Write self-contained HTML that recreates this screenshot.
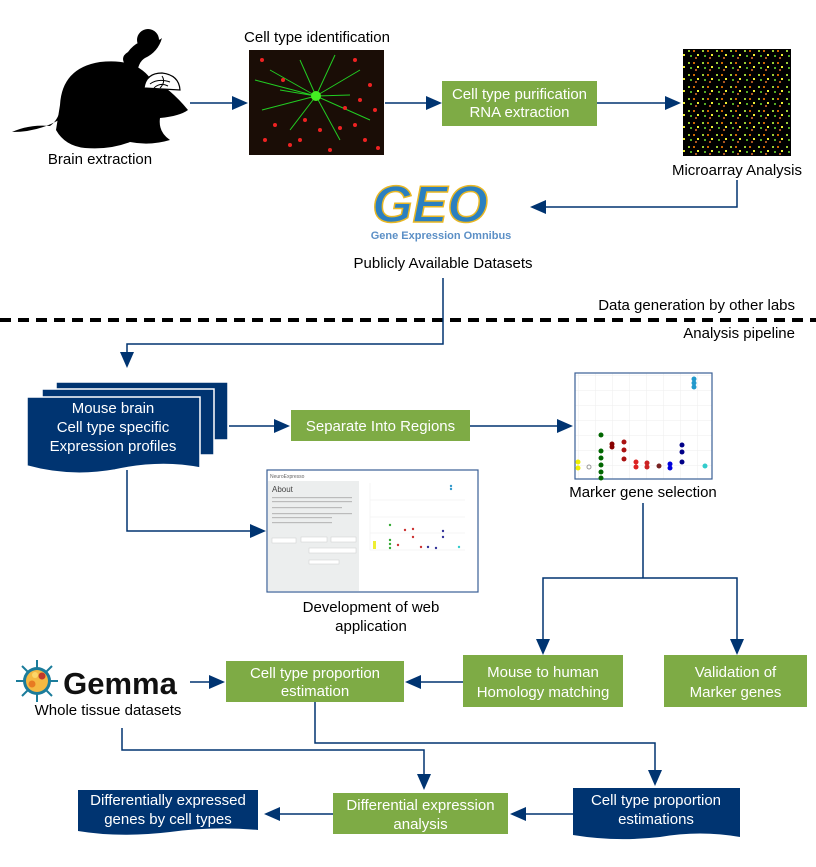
<!DOCTYPE html>
<html><head><meta charset="utf-8"><style>
html,body{margin:0;padding:0;background:#fff}
svg{display:block}
text{font-family:"Liberation Sans",sans-serif;}
</style></head><body>
<svg width="816" height="867" viewBox="0 0 816 867" xmlns="http://www.w3.org/2000/svg">
<defs>
<pattern id="ma" width="14" height="12" patternUnits="userSpaceOnUse">
<rect width="14" height="12" fill="#000"/>
<rect x="2" y="2" width="2" height="2" fill="#9c3"/>
<rect x="7" y="2" width="2" height="2" fill="#c60"/>
<rect x="11" y="6" width="2" height="2" fill="#ee3"/>
<rect x="4" y="7" width="2" height="2" fill="#5a2"/>
<rect x="9" y="9" width="2" height="2" fill="#a52"/>
</pattern>
<pattern id="gr" width="17" height="15" patternUnits="userSpaceOnUse">
<rect width="17" height="15" fill="#fff"/>
<path d="M0 0H17M0 0V15" stroke="#eee" stroke-width="1"/>
</pattern>
</defs>
<!-- mouse silhouette -->
<g fill="#000">
<path d="M60 105 Q62 68 100 62 Q135 58 150 78 Q170 88 188 110 Q180 116 160 118 Q158 132 170 140 Q150 146 130 142 Q110 150 85 148 Q65 146 56 130Z"/>
<path d="M62 118 Q40 132 12 132 Q30 124 50 126 Q58 120 60 110Z"/>
<circle cx="148" cy="40" r="11"/>
<path d="M128 68 Q118 58 128 52 Q133 45 140 42 Q158 42 162 38 Q158 52 145 58 Q138 62 137 75Z"/>
</g>
<path d="M144 88 Q146 73 162 73 Q179 75 180 90Z" fill="#fff" stroke="#000" stroke-width="1.2"/>
<path d="M150 84 Q158 78 170 82 M154 88 Q160 82 168 86 M162 76 Q166 82 160 88" stroke="#000" fill="none"/>
<text x="100" y="164" font-size="15" text-anchor="middle">Brain extraction</text>

<text x="317" y="42" font-size="15" text-anchor="middle">Cell type identification</text>
<rect x="249" y="50" width="135" height="105" fill="#1a0d06"/>
<g stroke="#2c2" stroke-width="1" fill="none">
<path d="M316 96 L270 70 M316 96 L290 130 M316 96 L360 70 M316 96 L370 120 M316 96 L300 60 M316 96 L340 140 M316 96 L262 110 M316 96 L335 55 M316 96 L280 90 M316 96 L350 95 M316 96 L255 80"/>
</g>
<circle cx="316" cy="96" r="5" fill="#4e2"/>
<g fill="#e22">
<circle cx="265" cy="140" r="2"/><circle cx="290" cy="145" r="2"/><circle cx="340" cy="128" r="2"/><circle cx="365" cy="140" r="2"/><circle cx="375" cy="110" r="2"/><circle cx="355" cy="60" r="2"/><circle cx="283" cy="80" r="2"/><circle cx="330" cy="150" r="2"/><circle cx="305" cy="120" r="2"/><circle cx="370" cy="85" r="2"/><circle cx="262" cy="60" r="2"/><circle cx="345" cy="108" r="2"/>
<circle cx="275" cy="125" r="2"/><circle cx="355" cy="125" r="2"/><circle cx="300" cy="140" r="2"/><circle cx="378" cy="148" r="2"/><circle cx="320" cy="130" r="2"/><circle cx="360" cy="100" r="2"/>
</g>
<rect x="442" y="81" width="155" height="45" fill="#7eab45"/>
<text x="519.5" y="99" font-size="15" fill="#fff" text-anchor="middle">Cell type purification</text>
<text x="519.5" y="117" font-size="15" fill="#fff" text-anchor="middle">RNA extraction</text>
<rect x="683" y="49" width="108" height="107" fill="url(#ma)"/>
<text x="737" y="175" font-size="15" text-anchor="middle">Microarray Analysis</text>

<!-- GEO -->
<text x="430" y="222" font-size="52" font-weight="bold" font-style="italic" fill="#2a7fc0" text-anchor="middle" stroke="#e9b723" stroke-width="1.5">GEO</text>
<text x="441" y="239" font-size="11" font-weight="bold" fill="#5b8fc6" text-anchor="middle">Gene Expression Omnibus</text>
<text x="443" y="268" font-size="15" text-anchor="middle">Publicly Available Datasets</text>

<text x="795" y="310" font-size="15" text-anchor="end">Data generation by other labs</text>
<line x1="0" y1="320" x2="816" y2="320" stroke="#000" stroke-width="4" stroke-dasharray="11,7"/>
<text x="795" y="338" font-size="15" text-anchor="end">Analysis pipeline</text>

<!-- connectors -->
<g stroke="#003471" stroke-width="1.5" fill="none">
<path d="M190 103H240"/><path d="M385 103H434"/><path d="M597 103H673"/>
<path d="M737 180V207H540"/>
<path d="M443 278V344H127V360"/>
<path d="M229 426H282"/><path d="M470 426H565"/>
<path d="M127 470V531H257"/>
<path d="M643 503V578H543V645M643 578H737V645"/>
<path d="M463 682H415"/>
<path d="M190 682H216"/>
<path d="M122 728V750H424V780"/>
<path d="M315 702V743H655V776"/>
<path d="M573 814H520"/><path d="M333 814H274"/>
</g>
<g fill="#003471">
<path d="M248 103l-16-7v14z"/><path d="M442 103l-16-7v14z"/><path d="M681 103l-16-7v14z"/>
<path d="M530 207l16-7v14z"/>
<path d="M127 368l-7-16h14z"/>
<path d="M290 426l-16-7v14z"/><path d="M573 426l-16-7v14z"/>
<path d="M266 531l-16-7v14z"/>
<path d="M543 655l-7-16h14z"/><path d="M737 655l-7-16h14z"/>
<path d="M405 682l16-7v14z"/>
<path d="M225 682l-16-7v14z"/>
<path d="M424 790l-7-16h14z"/><path d="M655 786l-7-16h14z"/>
<path d="M510 814l16-7v14z"/><path d="M264 814l16-7v14z"/>
</g>

<!-- stacked doc -->
<g fill="#003471" stroke="#fff" stroke-width="1.5">
<path d="M56 382H228V440H56Z"/>
<path d="M42 389H214V455H42Z"/>
<path d="M27 397H200V468Q160 460 115 470Q70 478 27 466Z"/>
</g>
<text x="113" y="413" font-size="15" fill="#fff" text-anchor="middle">Mouse brain</text>
<text x="113" y="432" font-size="15" fill="#fff" text-anchor="middle">Cell type specific</text>
<text x="113" y="451" font-size="15" fill="#fff" text-anchor="middle">Expression profiles</text>

<rect x="291" y="410" width="179" height="31" fill="#7eab45"/>
<text x="380.5" y="431" font-size="15" fill="#fff" text-anchor="middle">Separate Into Regions</text>

<!-- scatter plot -->
<rect x="575" y="373" width="137" height="106" fill="url(#gr)" stroke="#3a5f95" stroke-width="1.2"/>
<g>
<circle cx="578" cy="462" r="2.5" fill="#ee0"/><circle cx="578" cy="468" r="2.5" fill="#ee0"/>
<circle cx="589" cy="467" r="2" fill="none" stroke="#999"/>
<circle cx="601" cy="435" r="2.5" fill="#060"/><circle cx="601" cy="451" r="2.5" fill="#060"/><circle cx="601" cy="458" r="2.5" fill="#060"/><circle cx="601" cy="465" r="2.5" fill="#060"/><circle cx="601" cy="472" r="2.5" fill="#060"/><circle cx="601" cy="478" r="2.5" fill="#060"/>
<circle cx="612" cy="444" r="2.5" fill="#800"/><circle cx="612" cy="447" r="2.5" fill="#800"/>
<circle cx="624" cy="442" r="2.5" fill="#a11"/><circle cx="624" cy="450" r="2.5" fill="#a11"/><circle cx="624" cy="459" r="2.5" fill="#a11"/>
<circle cx="636" cy="462" r="2.5" fill="#d22"/><circle cx="636" cy="467" r="2.5" fill="#d22"/>
<circle cx="647" cy="463" r="2.5" fill="#c22"/><circle cx="647" cy="467" r="2.5" fill="#c22"/>
<circle cx="659" cy="466" r="2.5" fill="#722"/>
<circle cx="670" cy="464" r="2.5" fill="#00d"/><circle cx="670" cy="468" r="2.5" fill="#00d"/>
<circle cx="682" cy="445" r="2.5" fill="#008"/><circle cx="682" cy="452" r="2.5" fill="#008"/><circle cx="682" cy="462" r="2.5" fill="#008"/>
<circle cx="694" cy="379" r="2.5" fill="#29c"/><circle cx="694" cy="383" r="2.5" fill="#29c"/><circle cx="694" cy="387" r="2.5" fill="#29c"/>
<circle cx="705" cy="466" r="2.5" fill="#3cc"/>
</g>
<text x="643" y="497" font-size="15" text-anchor="middle">Marker gene selection</text>

<!-- web app -->
<rect x="267" y="470" width="211" height="122" fill="#fff" stroke="#3a5f95" stroke-width="1.2"/>
<rect x="268" y="481" width="91" height="110" fill="#eceeee"/>
<path d="M370 483V550H465M370 500H465M370 517H465M370 533H465" stroke="#eee" stroke-width=".6" fill="none"/>
<text x="270" y="478" font-size="5" fill="#666">NeuroExpresso</text>
<text x="272" y="492" font-size="8" fill="#444">About</text>
<g fill="#bbb"><rect x="272" y="497" width="80" height="1.2"/><rect x="272" y="501" width="80" height="1.2"/><rect x="272" y="507" width="70" height="1.2"/><rect x="272" y="513" width="80" height="1.2"/><rect x="272" y="517" width="60" height="1.2"/><rect x="272" y="522" width="60" height="1.2"/></g>
<g fill="#fff" stroke="#ccc" stroke-width=".5"><rect x="272" y="538" width="24" height="5"/><rect x="301" y="537" width="26" height="5"/><rect x="331" y="537" width="25" height="5"/><rect x="309" y="548" width="47" height="5"/><rect x="309" y="560" width="30" height="4"/></g>
<g fill="#3a3"><circle cx="390" cy="525" r="1.2"/><circle cx="390" cy="540" r="1.2"/><circle cx="390" cy="548" r="1.2"/><circle cx="390" cy="544" r="1.2"/></g>
<g fill="#c33"><circle cx="405" cy="530" r="1.2"/><circle cx="413" cy="529" r="1.2"/><circle cx="413" cy="537" r="1.2"/><circle cx="398" cy="545" r="1.2"/><circle cx="421" cy="547" r="1.2"/></g>
<g fill="#339"><circle cx="443" cy="531" r="1.2"/><circle cx="443" cy="537" r="1.2"/><circle cx="436" cy="548" r="1.2"/><circle cx="428" cy="547" r="1.2"/></g>
<g fill="#39c"><circle cx="451" cy="486" r="1.2"/><circle cx="451" cy="489" r="1.2"/></g>
<circle cx="459" cy="547" r="1.2" fill="#3cc"/><rect x="373" y="541" width="3" height="8" fill="#ee3"/>
<text x="371" y="612" font-size="15" text-anchor="middle">Development of web</text>
<text x="371" y="631" font-size="15" text-anchor="middle">application</text>

<rect x="463" y="655" width="160" height="52" fill="#7eab45"/>
<text x="543" y="677" font-size="15" fill="#fff" text-anchor="middle">Mouse to human</text>
<text x="543" y="697" font-size="15" fill="#fff" text-anchor="middle">Homology matching</text>
<rect x="664" y="655" width="143" height="52" fill="#7eab45"/>
<text x="735.5" y="677" font-size="15" fill="#fff" text-anchor="middle">Validation of</text>
<text x="735.5" y="697" font-size="15" fill="#fff" text-anchor="middle">Marker genes</text>
<rect x="226" y="661" width="178" height="41" fill="#7eab45"/>
<text x="315" y="678" font-size="15" fill="#fff" text-anchor="middle">Cell type proportion</text>
<text x="315" y="696" font-size="15" fill="#fff" text-anchor="middle">estimation</text>

<!-- Gemma -->
<circle cx="37" cy="681" r="14" fill="#1b7c9b"/>
<g stroke="#1b7c9b" stroke-width="2"><path d="M37 660V702M16 681H58M22 666L52 696M52 666L22 696"/></g>
<circle cx="37" cy="681" r="11" fill="#f5b942"/>
<circle cx="32" cy="684" r="3.5" fill="#e87a22"/><circle cx="42" cy="676" r="3.5" fill="#c0392b"/><circle cx="35" cy="675" r="3" fill="#fcd66a"/>
<text x="120" y="694" font-size="31" font-weight="bold" text-anchor="middle" fill="#111">Gemma</text>
<text x="108" y="715" font-size="15" text-anchor="middle">Whole tissue datasets</text>

<!-- bottom row -->
<path d="M573 788H740V837Q700 830 660 837Q615 842 573 835Z" fill="#003471"/>
<text x="656" y="805" font-size="15" fill="#fff" text-anchor="middle">Cell type proportion</text>
<text x="656" y="824" font-size="15" fill="#fff" text-anchor="middle">estimations</text>
<rect x="333" y="793" width="175" height="41" fill="#7eab45"/>
<text x="420.5" y="810" font-size="15" fill="#fff" text-anchor="middle">Differential expression</text>
<text x="420.5" y="829" font-size="15" fill="#fff" text-anchor="middle">analysis</text>
<path d="M78 790H258V830Q215 826 170 832Q120 838 78 831Z" fill="#003471"/>
<text x="168" y="805" font-size="15" fill="#fff" text-anchor="middle">Differentially expressed</text>
<text x="168" y="824" font-size="15" fill="#fff" text-anchor="middle">genes by cell types</text>
</svg>
</body></html>
